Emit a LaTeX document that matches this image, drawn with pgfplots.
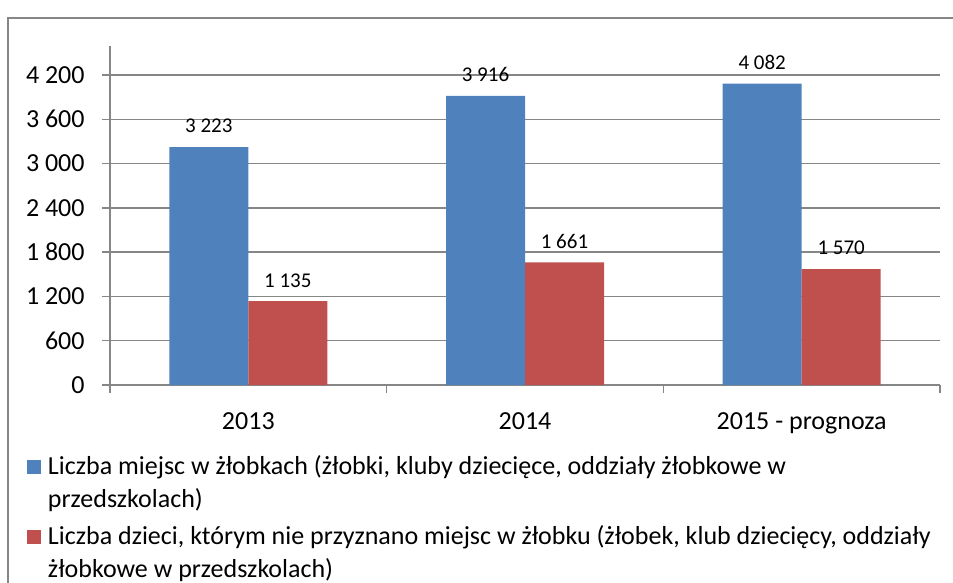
\documentclass[border=0pt]{standalone}
\usepackage{fontspec}
\setmainfont{Carlito}
\usepackage{pgfplots}
\pgfplotsset{compat=1.18}

\definecolor{barblue}{HTML}{4F81BD}
\definecolor{barred}{HTML}{C0504D}
\definecolor{axisgray}{HTML}{868686}
\newcommand{\bigfont}{\fontsize{13}{16.5}\selectfont}
\newcommand{\smallfont}{\fontsize{10.5}{12.6}\selectfont}

% square legend keys next to the first line of each (two-line) entry
\pgfplotsset{
  /pgfplots/ybar legend/.style={
    /pgfplots/legend image code/.code={\fill[##1,draw=none] (0pt,16.5pt) rectangle (7pt,23.5pt);}
  }
}

\begin{document}
\begin{tikzpicture}
% outer chart frame (only top and left visible)
\draw[axisgray, line width=0.75pt] (-51pt,-105pt) -- (-51pt,183.5pt) -- (430pt,183.5pt);

\begin{axis}[
  at={(0pt,0pt)}, anchor=south west,
  scale only axis, width=415pt, height=169.5pt,
  ybar, bar width=39.5pt,
  xmin=-0.5, xmax=2.5, ymin=0, ymax=4593,
  axis x line*=bottom, axis y line*=left,
  axis line style={axisgray, line width=0.75pt, -},
  xtick={-0.5,0.5,1.5,2.5},
  x tick label as interval,
  xticklabels={2013,2014,2015 - prognoza},
  ytick={0,600,...,4200},
  yticklabels={0,600,1 200,1 800,2 400,3 000,3 600,4 200},
  tick align=outside, major tick length=3.75pt,
  tick style={axisgray, line width=0.75pt},
  ymajorgrids, grid style={axisgray, line width=0.75pt},
  tick label style={font=\bigfont, text=black},
  yticklabel style={anchor=east, inner sep=0pt},
  yticklabel shift=8.75pt,
  xticklabel style={anchor=north, inner sep=0pt},
  xticklabel shift=9.75pt,
  point meta=explicit symbolic,
  nodes near coords,
  every node near coord/.append style={font=\smallfont, text=black, yshift=3.5pt},
  legend style={
    at={(axis description cs:-0.1,-0.2077)}, anchor=north west,
    draw=none, fill=none, inner sep=0pt, outer sep=0pt,
    font=\bigfont, row sep=7.3pt,
    nodes={inner sep=0pt},
    cells={anchor=base west, align=left},
    /tikz/every odd column/.append style={column sep=3.5pt},
  },
]
\addplot[fill=barblue, draw=none, bar shift=-19.75pt] coordinates {
  (0,3223) [3 223]
  (1,3916) [3 916]
  (2,4082) [4 082]
};
\addlegendentry{Liczba miejsc w żłobkach (żłobki, kluby dziecięce, oddziały żłobkowe w\\przedszkolach)}
\addplot[fill=barred, draw=none, bar shift=19.75pt] coordinates {
  (0,1135) [1 135]
  (1,1661) [1 661]
  (2,1570) [1 570]
};
\addlegendentry{Liczba dzieci, którym nie przyznano miejsc w żłobku (żłobek, klub dziecięcy, oddziały\\żłobkowe w przedszkolach)}
\end{axis}

\pgfresetboundingbox
\path[use as bounding box] (-55pt,-99pt) rectangle (421.5pt,192.5pt);
\end{tikzpicture}
\end{document}
